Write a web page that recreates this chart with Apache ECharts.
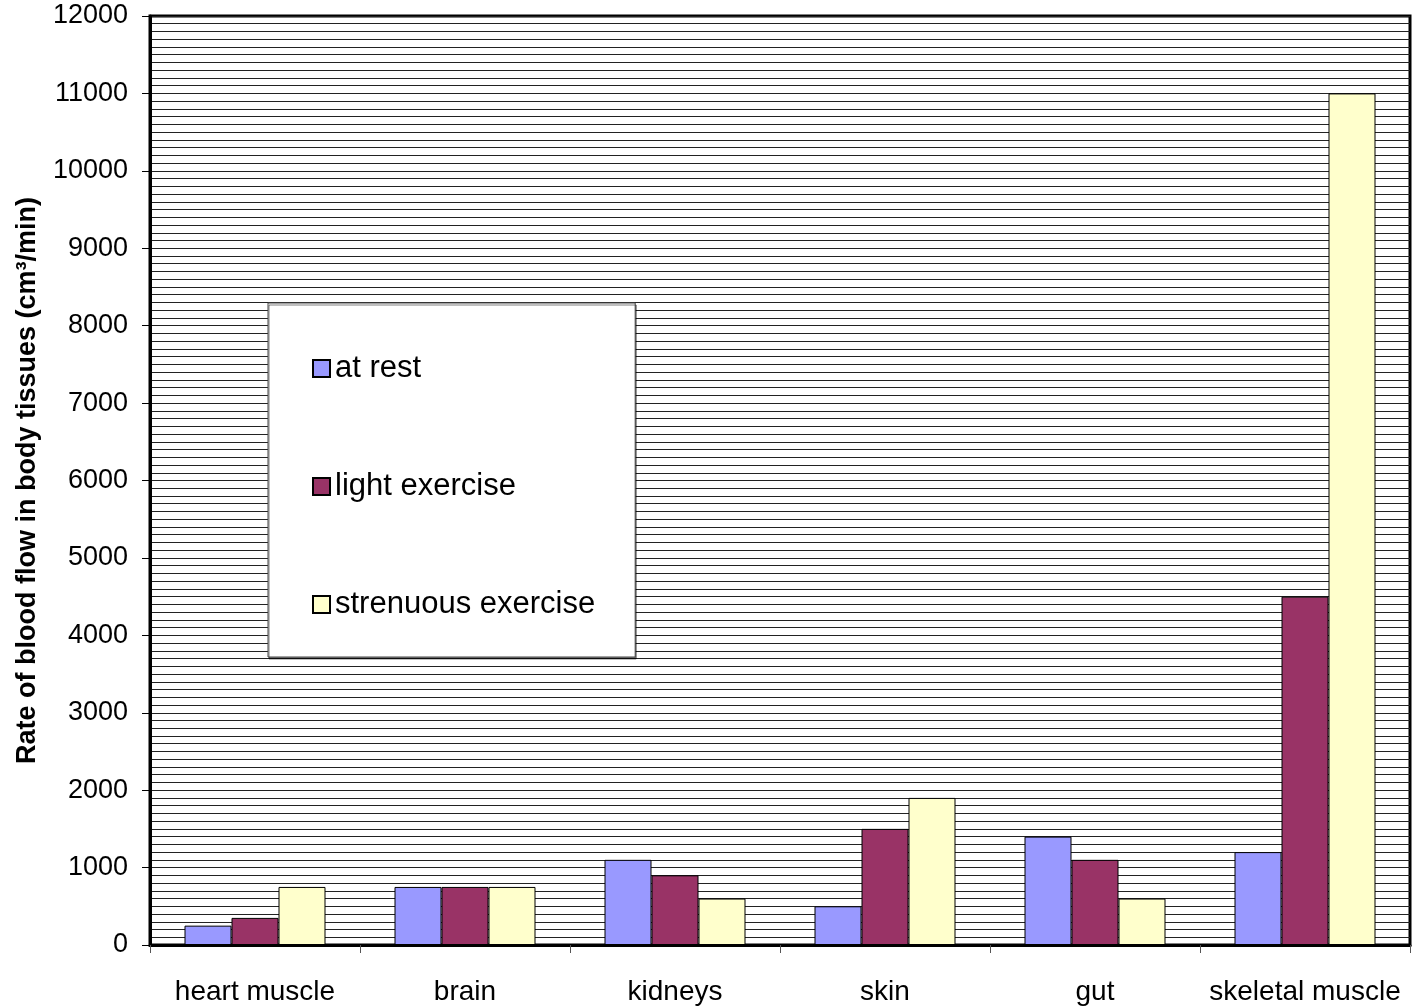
<!DOCTYPE html>
<html>
<head>
<meta charset="utf-8">
<script src="https://cdn.jsdelivr.net/npm/echarts@6/dist/echarts.min.js"></script>
<style>
  html, body { margin: 0; padding: 0; background: #fff; }
  #chart { width: 1416px; height: 1007px; }
</style>
</head>
<body>
<div id="chart"></div>
<script>
const tissues = ['heart muscle', 'brain', 'kidneys', 'skin', 'gut', 'skeletal muscle'];
const atRest = [250, 750, 1100, 500, 1400, 1200];
const lightExercise = [350, 750, 900, 1500, 1100, 4500];
const strenuousExercise = [750, 750, 600, 1900, 600, 11000];
const seriesNames = ['at rest', 'light exercise', 'strenuous exercise'];
const seriesColors = ['#9999FF', '#993366', '#FFFFCC'];

const font = '"Liberation Sans", Arial, sans-serif';

const chart = echarts.init(document.getElementById('chart'), null, { renderer: 'canvas' });

function bar(name, data, color) {
    return {
        name: name,
        type: 'bar',
        data: data,
        barWidth: 47,
        barGap: '0%',
        itemStyle: { color: color, borderColor: '#000', borderWidth: 1 }
    };
}

chart.setOption({
    animation: false,
    textStyle: { fontFamily: font, color: '#000' },
    grid: {
        left: 150, right: 6, top: 16, bottom: 62,
        show: true, borderColor: '#000', borderWidth: 3, backgroundColor: '#fff'
    },
    legend: {
        orient: 'vertical',
        left: 268,
        top: 303,
        padding: [50, 40, 37, 44],
        itemGap: 87,
        itemWidth: 17,
        itemHeight: 17,
        icon: 'rect',
        backgroundColor: '#fff',
        borderColor: '#444',
        borderWidth: 1,
        shadowColor: 'rgba(0,0,0,0.5)',
        shadowOffsetX: 1,
        shadowOffsetY: 2,
        textStyle: { fontSize: 31, lineHeight: 30, fontFamily: font, color: '#000' },
        data: seriesNames
    },
    xAxis: {
        type: 'category',
        data: tissues,
        axisLine: { lineStyle: { color: '#000', width: 3 } },
        axisTick: { show: true, length: 8, lineStyle: { color: '#555', width: 1 } },
        axisLabel: { interval: 0, fontSize: 28, margin: 33, color: '#000', fontFamily: font }
    },
    yAxis: {
        type: 'value',
        min: 0,
        max: 12000,
        interval: 1000,
        name: 'Rate of blood flow in body tissues (cm\u00B3/min)',
        nameLocation: 'middle',
        nameGap: 109,
        nameTextStyle: { fontSize: 27, fontWeight: 'bold', color: '#000', fontFamily: font },
        axisLine: { show: true, lineStyle: { color: '#000', width: 3 } },
        axisTick: { show: true, length: 8, lineStyle: { color: '#000', width: 1 } },
        axisLabel: {
            fontSize: 27, margin: 22, color: '#000', fontFamily: font,
            formatter: function (v) { return String(v); }
        },
        splitLine: { show: true, lineStyle: { color: '#222', width: 1 } },
        minorTick: { show: false, splitNumber: 10 },
        minorSplitLine: { show: true, lineStyle: { color: '#222', width: 1 } }
    },
    series: [
        bar(seriesNames[0], atRest, seriesColors[0]),
        bar(seriesNames[1], lightExercise, seriesColors[1]),
        bar(seriesNames[2], strenuousExercise, seriesColors[2])
    ]
});
</script>
</body>
</html>
